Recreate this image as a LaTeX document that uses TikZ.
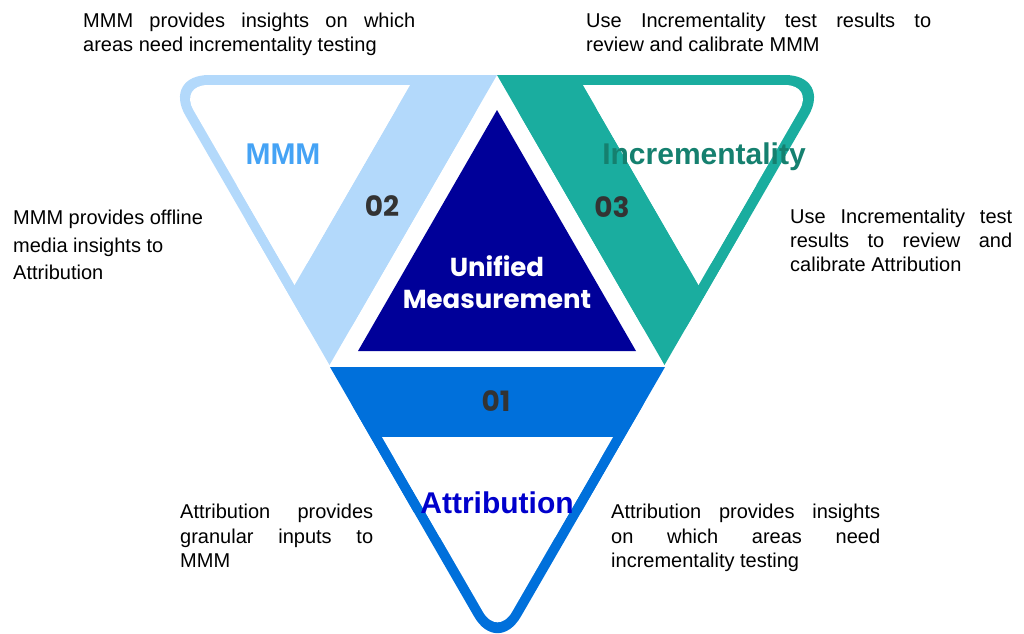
\documentclass[tikz,border=0pt]{standalone}
\usepackage{fontspec}
\setmainfont{Liberation Sans}
\newfontfamily\geofont{Poppins}
\usetikzlibrary{calc}
\definecolor{mmmfill}{HTML}{B3D9FB}
\definecolor{mmmtext}{HTML}{45A3F5}
\definecolor{incfill}{HTML}{1AAD9F}
\definecolor{inctext}{HTML}{15806F}
\definecolor{attfill}{HTML}{0070DB}
\definecolor{atttext}{HTML}{0000CC}
\definecolor{unified}{HTML}{000099}
\definecolor{numgray}{HTML}{333333}

\begin{document}
\begin{tikzpicture}[x=1pt,y=-1pt,
outer/.style={rounded corners=47pt},
inner/.style={white,rounded corners=29pt},
note/.style={inner sep=0pt,anchor=north west,align=left,font=\fontsize{20}{24}\selectfont},
title/.style={inner sep=0pt,anchor=base,font=\fontsize{30}{30}\selectfont\bfseries},
num/.style={inner sep=0pt,text=numgray,font=\geofont\fontsize{28}{28}\selectfont\bfseries}]
\useasboundingbox (0,0) rectangle (1024,633);
% corners of the three funnels (first one is the rounded one)
\coordinate (m1) at (162,75);  \coordinate (m2) at (497,75);  \coordinate (m3) at (329.5,365);
\coordinate (mw1) at (179,85); \coordinate (mw2) at (410,85); \coordinate (mw3) at (294.5,285);
\coordinate (i1) at (832,75);  \coordinate (i2) at (664.5,365); \coordinate (i3) at (497,75);
\coordinate (iw1) at (814,85); \coordinate (iw2) at (698.5,285); \coordinate (iw3) at (583,85);
\coordinate (a1) at (497.5,657); \coordinate (a2) at (330,367); \coordinate (a3) at (665,367);
\coordinate (aw1) at (497.5,637); \coordinate (aw2) at (382,437); \coordinate (aw3) at (613,437);
% MMM
\fill[mmmfill,outer] (m1) -- (m2) -- (m3) -- cycle;
\fill[mmmfill] ($(m3)!.5!(m1)$) -- (m3) -- (m2) -- ($(m1)!.5!(m2)$) -- cycle;
\fill[inner] (mw1) -- (mw2) -- (mw3) -- cycle;
\fill[white] ($(mw3)!.5!(mw1)$) -- (mw3) -- (mw2) -- ($(mw1)!.5!(mw2)$) -- cycle;
% Incrementality
\fill[incfill,outer] (i1) -- (i2) -- (i3) -- cycle;
\fill[incfill] ($(i3)!.5!(i1)$) -- (i3) -- (i2) -- ($(i1)!.5!(i2)$) -- cycle;
\fill[inner] (iw1) -- (iw2) -- (iw3) -- cycle;
\fill[white] ($(iw3)!.5!(iw1)$) -- (iw3) -- (iw2) -- ($(iw1)!.5!(iw2)$) -- cycle;
% Attribution
\fill[attfill,outer] (a1) -- (a2) -- (a3) -- cycle;
\fill[attfill] ($(a3)!.5!(a1)$) -- (a3) -- (a2) -- ($(a1)!.5!(a2)$) -- cycle;
\fill[inner] (aw1) -- (aw2) -- (aw3) -- cycle;
\fill[white] ($(aw3)!.5!(aw1)$) -- (aw3) -- (aw2) -- ($(aw1)!.5!(aw2)$) -- cycle;
% centre
\fill[unified] (497,110) -- (636,351) -- (358,351) -- cycle;
\node[align=center,text=white,font=\geofont\fontsize{26}{32}\selectfont\bfseries] (um) at (497,282) {Unified\\Measurement};

\node[title,text=mmmtext] (mmm) at (283,164) {MMM};
\node[title,text=inctext] (inc) at (704,164) {Incrementality};
\node[title,text=atttext] (att) at (497,513) {Attribution};
\node[num] (n02) at (382,206) {02};
\node[num] (n03) at (612,207) {03};
\node[num] (n01) at (496,401) {01};

\node[note] (tl) at (83,13) {\makebox[332pt][s]{MMM provides insights on which}\\areas need incrementality testing};
\node[note] (tr) at (586,13) {\makebox[345pt][s]{Use Incrementality test results to}\\review and calibrate MMM};
\node[note,font=\fontsize{20}{27.5}\selectfont] (lm) at (13,210) {MMM provides offline\\media insights to\\Attribution};
\node[note] (rm) at (790,209) {\makebox[222pt][s]{Use Incrementality test}\\\makebox[222pt][s]{results to review and}\\calibrate Attribution};
\node[note,font=\fontsize{20}{24.5}\selectfont] (bl) at (180,504) {\makebox[193pt][s]{Attribution provides}\\\makebox[193pt][s]{granular inputs to}\\MMM};
\node[note,font=\fontsize{20}{24.5}\selectfont] (br) at (611,504) {\makebox[269pt][s]{Attribution provides insights}\\\makebox[269pt][s]{on which areas need}\\incrementality testing};
\end{tikzpicture}
\end{document}
